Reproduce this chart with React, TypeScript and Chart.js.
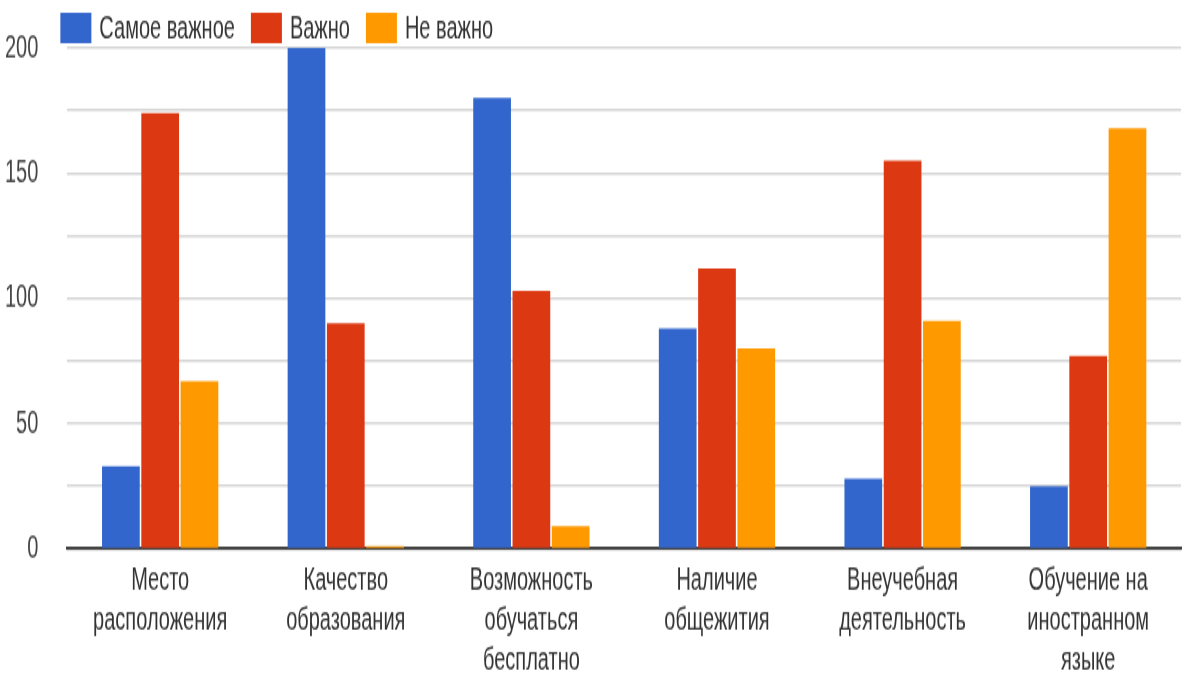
import React, { useEffect, useRef } from "react";
import { Chart, registerables } from "chart.js";

Chart.register(...registerables);

const categories: string[][] = [
  ["Место", "расположения"],
  ["Качество", "образования"],
  ["Возможность", "обучаться", "бесплатно"],
  ["Наличие", "общежития"],
  ["Внеучебная", "деятельность"],
  ["Обучение на", "иностранном", "языке"],
];
const seriesNames = ["Самое важное", "Важно", "Не важно"];
const mostImportant = [33, 200, 180, 88, 28, 25];
const important = [174, 90, 103, 112, 155, 77];
const notImportant = [67, 1, 9, 80, 91, 168];
const seriesColors = ["#3366CC", "#DC3912", "#FF9900"];
const yMin = 0;
const yMax = 200;
const yStep = 25;
const yLabelEvery = 50;

const FONT = "'Liberation Sans Narrow', 'Arial Narrow', 'Liberation Sans', Arial, sans-serif";
const FONT_SIZE = 20;
const CANVAS_W = 1189;
const CANVAS_H = 428;
const STRETCH = 684 / CANVAS_H;

const legendPlugin = {
  id: "topLegend",
  afterDraw(chart: any) {
    const ctx = chart.ctx;
    const ca = chart.chartArea;
    let x = ca.left - 7;
    const yTop = 8;
    const bh = 19;
    const bw = 31;
    ctx.save();
    ctx.font = `${FONT_SIZE}px ${FONT}`;
    ctx.textBaseline = "middle";
    ctx.textAlign = "left";
    chart.data.datasets.forEach((ds: any) => {
      ctx.fillStyle = ds.backgroundColor;
      ctx.fillRect(x, yTop, bw, bh);
      ctx.fillStyle = "#333333";
      ctx.fillText(ds.label, x + bw + 8, yTop + bh / 2 + 1);
      x += bw + 8 + ctx.measureText(ds.label).width + 16;
    });
    ctx.restore();
  },
};

export default function App() {
  const ref = useRef<HTMLCanvasElement | null>(null);

  useEffect(() => {
    if (!ref.current) return;
    const seriesValues = [mostImportant, important, notImportant];
    const chart = new Chart(ref.current, {
      type: "bar",
      data: {
        labels: categories,
        datasets: seriesNames.map((name, i) => ({
          label: name,
          data: seriesValues[i],
          backgroundColor: seriesColors[i],
          borderWidth: 0,
          barPercentage: 0.96,
          categoryPercentage: 0.635,
        })),
      },
      options: {
        responsive: false,
        animation: false,
        devicePixelRatio: 1,
        layout: { autoPadding: false, padding: { top: 30, left: -24, right: 8, bottom: -5 } },
        plugins: {
          legend: { display: false },
          tooltip: { enabled: false },
          title: { display: false },
        },
        scales: {
          x: {
            grid: { display: false, drawTicks: false },
            border: { display: true, color: "#444444", width: 2 },
            ticks: {
              color: "#333333",
              padding: 7,
              maxRotation: 0,
              autoSkip: false,
              font: { family: FONT, size: FONT_SIZE, lineHeight: 1.26 },
            },
          },
          y: {
            min: yMin,
            max: yMax,
            grid: { color: "#d6d6d6", lineWidth: 1.5, drawTicks: false },
            border: { display: false },
            afterFit: (scale: any) => {
              scale.paddingTop = 0;
              scale.paddingBottom = 0;
            },
            ticks: {
              stepSize: yStep,
              color: "#444444",
              padding: 29,
              font: { family: FONT, size: FONT_SIZE, lineHeight: 1.26 },
              callback: (v: any) => (Number(v) % yLabelEvery === 0 ? String(v) : ""),
            },
          },
        },
      },
      plugins: [legendPlugin],
    });
    return () => chart.destroy();
  }, []);

  return (
    <div
      style={{
        position: "absolute",
        left: 0,
        top: 0,
        width: 1189,
        height: 684,
        overflow: "hidden",
        background: "#ffffff",
      }}
    >
      <div
        style={{
          width: CANVAS_W,
          height: CANVAS_H,
          transform: `scaleY(${STRETCH})`,
          transformOrigin: "0 0",
        }}
      >
        <canvas
          ref={ref}
          width={CANVAS_W}
          height={CANVAS_H}
          style={{ width: CANVAS_W, height: CANVAS_H, display: "block" }}
        />
      </div>
    </div>
  );
}
